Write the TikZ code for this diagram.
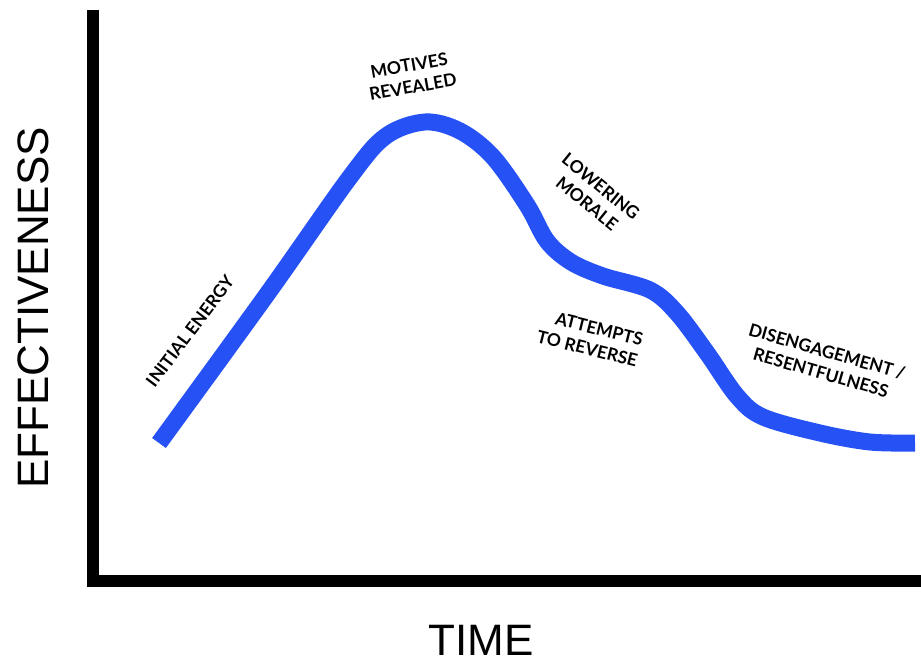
\documentclass[tikz,border=0pt]{standalone}
\usepackage{fontspec}
\setmainfont{Liberation Sans}
\newfontfamily\notefont{Lato}
\usetikzlibrary{positioning}
\definecolor{curveblue}{RGB}{38,82,245}
\tikzstyle{axis} = [line width=12pt, black, line cap=butt]
\tikzstyle{curve} = [line width=17pt, curveblue, line join=round]
\tikzstyle{axislabel} = [inner sep=0pt, font=\fontsize{44}{48}\selectfont]
\tikzstyle{note} = [inner sep=0pt, align=center, font=\notefont\bfseries\fontsize{17.5}{22}\selectfont]

\begin{document}
\begin{tikzpicture}[x=1pt, y=-1pt]
\useasboundingbox (0,0) rectangle (921,661);

\coordinate (top) at (93,10);
\coordinate (origin) at (93,581);
\coordinate (right) at (921,581);
\draw [axis] (top) -- (93,587) (87,581) -- (right);

\node (yname) [axislabel, rotate=90] at (33.5,308) {EFFECTIVENESS};
\node (xname) [axislabel] at (481,640) {TIME};

\draw [curve] plot[smooth, tension=0.55] coordinates {(159,443) (268,293) (350,177) (386,136) (425,122) (460,131) (493,157) (527,205) (547,241) (571,262) (603,276) (650,290) (677,313) (707,353) (737,396) (763,417) (820,433) (870,442) (915,443)};

\node (initial) [note, rotate=53] at (190,331) {INITIAL ENERGY};
\node (motives) [note, rotate=10] at (411,76) {MOTIVES\\REVEALED};
\node (morale) [note, rotate=-39] at (594,195) {LOWERING\\MORALE};
\node (attempts) [note, rotate=-14, align=right] at (590,338) {ATTEMPTS\\TO REVERSE};
\node (disengage) [note, rotate=-16] at (824,362) {DISENGAGEMENT /\\RESENTFULNESS};

\end{tikzpicture}
\end{document}
